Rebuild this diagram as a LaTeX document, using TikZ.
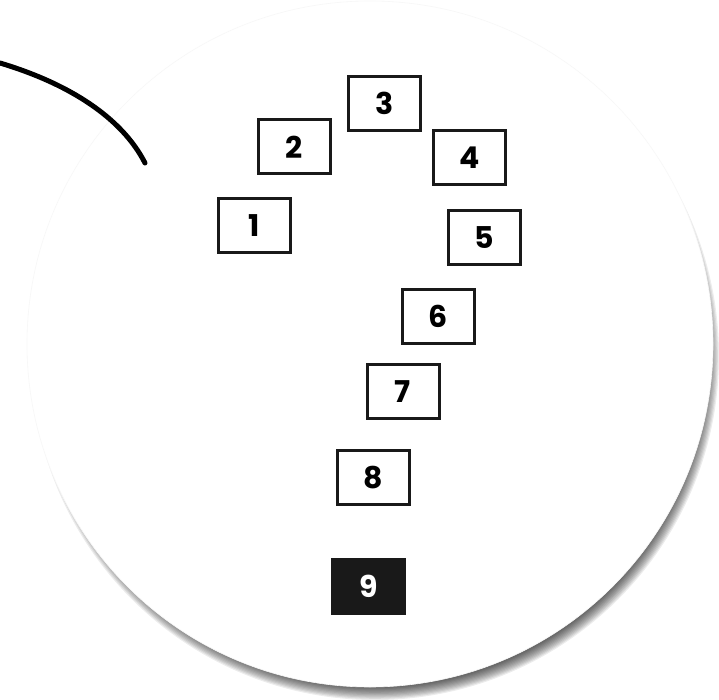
\documentclass[tikz,border=0pt]{standalone}
\usepackage{fontspec}
\setmainfont{Poppins}
\begin{document}
\begin{tikzpicture}[x=1pt,y=-1pt,
  numbox/.style={draw=black!90, line width=3pt, fill=white, minimum width=72pt, minimum height=54pt, inner sep=0pt, font=\fontsize{30}{30}\selectfont\bfseries},
  darkbox/.style={numbox, fill=black!90, text=white}]
\useasboundingbox (0,0) rectangle (719,700);
\fill[white] (0,0) rectangle (719,700);
% shadow
\foreach \k in {0,...,15}{
  \fill[black, opacity=0.075] (375,356) circle ({344-1.2*\k});
}
\fill[white] (370,344) circle (343);
\draw[black!3, line width=0.6pt] (370,344) circle (343);
% curve
\coordinate (cs) at (0,63);
\coordinate (ce) at (145,163);
\draw[line width=5pt, line cap=round] (cs) .. controls (70,84) and (122,118) .. (ce);
% boxes
\node[numbox] (b1) at (254,226) {1};
\node[numbox] (b2) at (294,147) {2};
\node[numbox] (b3) at (384.5,103.5) {3};
\node[numbox] (b4) at (469.5,158) {4};
\node[numbox] (b5) at (484.5,237.5) {5};
\node[numbox] (b6) at (438.5,316) {6};
\node[numbox] (b7) at (403,391.5) {7};
\node[numbox] (b8) at (373,477.5) {8};
\node[darkbox] (b9) at (368.5,586.5) {9};
\end{tikzpicture}
\end{document}
